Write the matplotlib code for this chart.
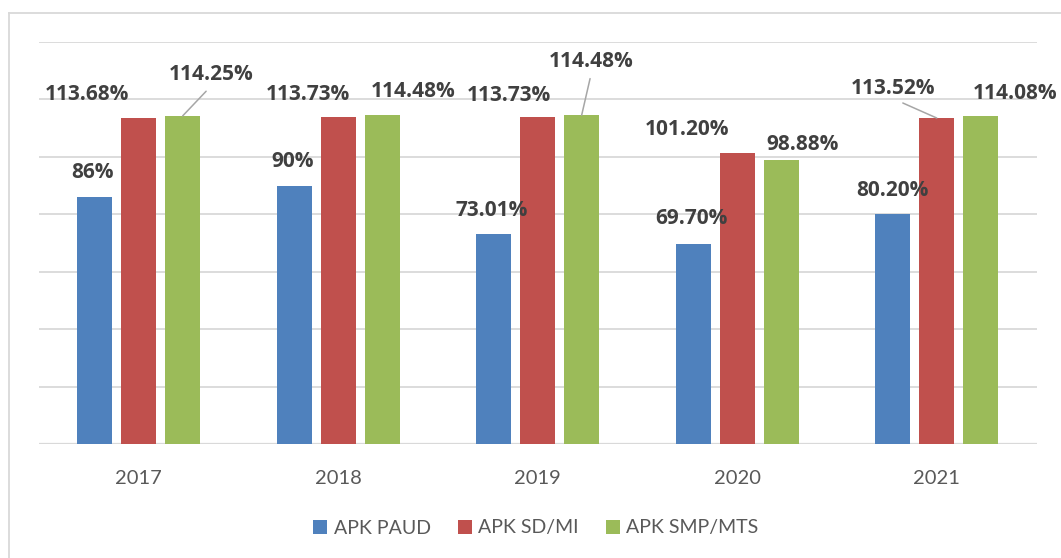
import numpy as np
import matplotlib.pyplot as plt
from matplotlib.lines import Line2D
from matplotlib.patches import Patch

years = ["2017", "2018", "2019", "2020", "2021"]
series_names = ["APK PAUD", "APK SD/MI", "APK SMP/MTS"]
apk_paud = [86.0, 90.0, 73.01, 69.70, 80.20]
apk_sd_mi = [113.68, 113.73, 113.73, 101.20, 113.52]
apk_smp_mts = [114.25, 114.48, 114.48, 98.88, 114.08]
paud_labels = ["86%", "90%", "73.01%", "69.70%", "80.20%"]
sd_labels = ["113.68%", "113.73%", "113.73%", "101.20%", "113.52%"]
smp_labels = ["114.25%", "114.48%", "114.48%", "98.88%", "114.08%"]

colors = ["#4F81BD", "#C0504D", "#9BBB59"]

# label offsets from the bar top, in pixels (dx right, dy up), and leader flag
offsets = [
    [(-2, 25), (-2, 24), (-2, 24), (-2, 25), (0, 23)],
    [(-52, 23), (-30, 23), (-29, 22), (-50, 24), (-44, 30)],
    [(29, 41), (31, 24), (10, 54), (21, 16), (34, 23)],
]
leaders = [
    [False] * 5,
    [False, False, False, False, True],
    [True, False, True, False, False],
]

W, H = 1061, 558
DPI = 100
PX = 72.0 / DPI  # points per pixel

fig = plt.figure(figsize=(W / DPI, H / DPI), dpi=DPI)
ax = fig.add_axes([39 / W, 1 - 444 / H, 997.5 / W, (444 - 42) / H])

x = np.arange(len(years))
step = 0.22
width = 0.175
values = [apk_paud, apk_sd_mi, apk_smp_mts]
labels = [paud_labels, sd_labels, smp_labels]

ax.set_axisbelow(True)
for yv in range(20, 141, 20):
    ax.axhline(yv, color="#d9d9d9", lw=1.3, zorder=0)
ax.axhline(0, color="#d9d9d9", lw=1.6, zorder=0)

for s, (vals, labs) in enumerate(zip(values, labels)):
    xs = x + (s - 1) * step
    ax.bar(xs, vals, width=width, color=colors[s], label=series_names[s], zorder=2)
    for i, (xi, v, lab) in enumerate(zip(xs, vals, labs)):
        dx, dy = offsets[s][i]
        kw = {}
        if leaders[s][i]:
            kw["arrowprops"] = dict(arrowstyle="-", color="#a6a6a6", lw=1.1,
                                    relpos=(0.5, 0.0), shrinkA=3, shrinkB=0)
        ax.annotate(lab, xy=(xi, v), xytext=(dx * PX, dy * PX),
                    textcoords="offset points", ha="center", va="center",
                    fontsize=15, fontweight="bold", family="Open Sans",
                    color="#404040", zorder=3, **kw)

ax.set_xlim(-0.5, len(years) - 0.5)
ax.set_ylim(0, 140)
ax.set_xticks(x)
ax.set_xticklabels(years, family="Lato", fontsize=14.5, color="#595959")
ax.tick_params(axis="x", length=0, pad=19)
ax.set_yticks([])
for sp in ax.spines.values():
    sp.set_visible(False)

handles = [Patch(facecolor=c, edgecolor="none", label=n) for c, n in zip(colors, series_names)]
fig.legend(handles=handles, loc="center", bbox_to_anchor=(536 / W, 1 - 528 / H),
           ncol=3, frameon=False, prop={"family": "Lato", "size": 14},
           labelcolor="#595959", handlelength=0.7, handleheight=0.7,
           handletextpad=0.35, columnspacing=1.4)

# outer chart frame (left and top edges visible)
fig.add_artist(Line2D([9 / W, 9 / W], [1 - 13 / H, 0], transform=fig.transFigure,
                      color="#d9d9d9", lw=1.3))
fig.add_artist(Line2D([9 / W, 1], [1 - 13 / H, 1 - 13 / H], transform=fig.transFigure,
                      color="#d9d9d9", lw=1.3))

fig.savefig("out.png", dpi=DPI)
